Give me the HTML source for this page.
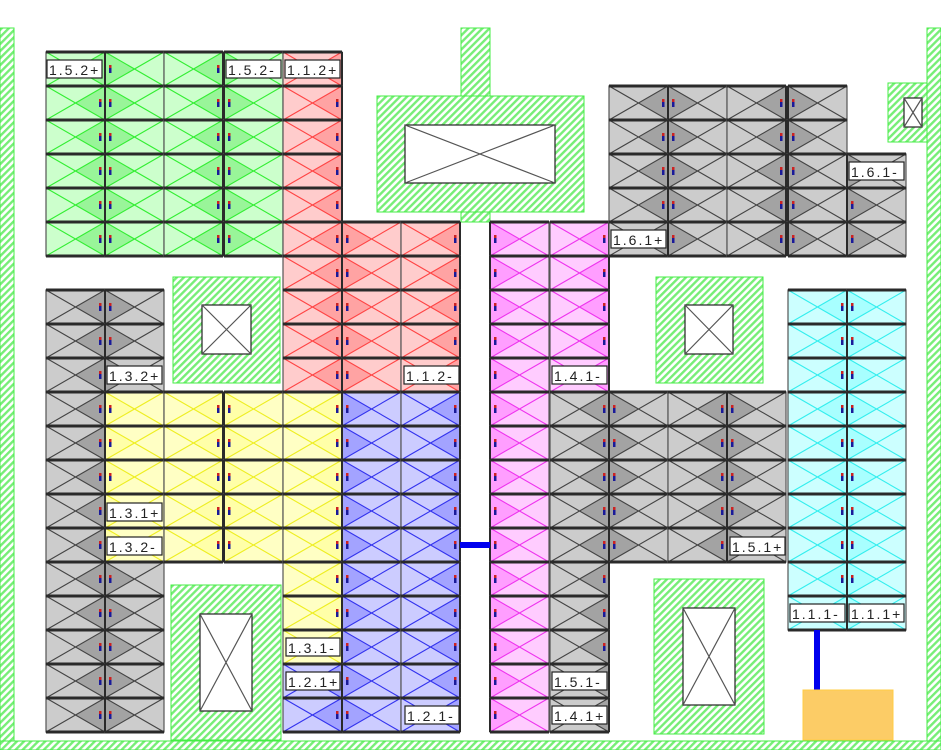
<!DOCTYPE html>
<html><head><meta charset="utf-8"><style>
html,body{margin:0;padding:0;background:#fff;width:941px;height:750px;overflow:hidden}
svg{display:block}
.lb rect{fill:#fff;stroke:#222;stroke-width:1.2}
.lb text{font-family:"Liberation Sans",sans-serif;font-size:14px;letter-spacing:2px;fill:#222}
</style></head><body>
<svg id="s" width="941" height="750" viewBox="0 0 941 750" xmlns="http://www.w3.org/2000/svg">
<defs>
<pattern id="h" patternUnits="userSpaceOnUse" width="5" height="5" patternTransform="rotate(45)">
<rect width="5" height="5" fill="#fff"/><rect width="2.4" height="5" fill="#77ee77"/>
</pattern>
</defs>
<g id="hatch" fill="url(#h)" stroke="#44ee44" stroke-width="1">
<rect x="0" y="28" width="14" height="722"/>
<rect x="927" y="28" width="14" height="722"/>
<rect x="0" y="741" width="941" height="9"/>
<rect x="461" y="28" width="29" height="194"/>
<rect x="377" y="96" width="207" height="116"/>
<rect x="888" y="83" width="39" height="59"/>
<rect x="173" y="277" width="107" height="106"/>
<rect x="656" y="277" width="107" height="106"/>
<rect x="171" y="585" width="110" height="155"/>
<rect x="654" y="579" width="110" height="155"/>
</g>
<g fill="#fff" stroke="#222" stroke-width="1.2">
<rect x="405" y="125" width="150" height="58"/><path d="M405 125L555 183M555 125L405 183" stroke="#555"/>
<rect x="904" y="98" width="18" height="29"/><path d="M904 98L922 127M922 98L904 127" stroke="#555"/>
<rect x="202" y="305" width="49" height="49"/><path d="M202 305L251 354M251 305L202 354" stroke="#555"/>
<rect x="685" y="305" width="48" height="49"/><path d="M685 305L733 354M733 305L685 354" stroke="#555"/>
<rect x="200" y="614" width="52" height="97"/><path d="M200 614L252 711M252 614L200 711" stroke="#555"/>
<rect x="683" y="608" width="52" height="97"/><path d="M683 608L735 705M735 608L683 705" stroke="#555"/>
</g>
<g id="cells"></g>
<rect x="460" y="542" width="30" height="6" fill="#0000ee"/>
<rect x="814" y="630" width="6" height="61" fill="#0000ee"/>
<rect x="803" y="690" width="90" height="50" fill="#fccc66" stroke="#ffcc44"/>
<g class="lb">
<rect x="47" y="60" width="55" height="18"/><text x="49" y="75">1.5.2+</text>
<rect x="226" y="60" width="55" height="18"/><text x="228" y="75">1.5.2-</text>
<rect x="285" y="60" width="55" height="18"/><text x="287" y="75">1.1.2+</text>
<rect x="849" y="162" width="55" height="18"/><text x="851" y="177">1.6.1-</text>
<rect x="611" y="230" width="55" height="18"/><text x="613" y="245">1.6.1+</text>
<rect x="107" y="366" width="55" height="18"/><text x="109" y="381">1.3.2+</text>
<rect x="404" y="366" width="55" height="18"/><text x="406" y="381">1.1.2-</text>
<rect x="552" y="366" width="55" height="18"/><text x="554" y="381">1.4.1-</text>
<rect x="107" y="503" width="55" height="18"/><text x="109" y="518">1.3.1+</text>
<rect x="107" y="537" width="55" height="18"/><text x="109" y="552">1.3.2-</text>
<rect x="730" y="537" width="55" height="18"/><text x="732" y="552">1.5.1+</text>
<rect x="790" y="604" width="55" height="18"/><text x="792" y="619">1.1.1-</text>
<rect x="849" y="604" width="55" height="18"/><text x="851" y="619">1.1.1+</text>
<rect x="286" y="638" width="54" height="18"/><text x="288" y="653">1.3.1-</text>
<rect x="286" y="672" width="54" height="18"/><text x="288" y="687">1.2.1+</text>
<rect x="552" y="672" width="55" height="18"/><text x="554" y="687">1.5.1-</text>
<rect x="405" y="706" width="54" height="18"/><text x="407" y="721">1.2.1-</text>
<rect x="552" y="706" width="55" height="18"/><text x="554" y="721">1.4.1+</text>
</g>
</svg>
<script>
var C={g:["#ccffcc","#99f599","#33ee33"],r:["#ffcccc","#ffa3a3","#ff4444"],k:["#cccccc","#a3a3a3","#444444"],
y:["#ffffc4","#ffffa8","#eeee22"],b:["#ccccff","#a3a3ff","#3333ee"],p:["#ffccff","#ff9eff","#ee33ee"],c:["#ccffff","#a8ffff","#33eeee"]};
var G=document.getElementById("cells"),out="";
function cell(x,y,w,col,side){var c=C[col],h=34,cx=x+w/2,cy=y+h/2,s="";
s+='<rect x="'+x+'" y="'+y+'" width="'+w+'" height="'+h+'" fill="'+c[0]+'"/>';
if(side=="R")s+='<polygon points="'+cx+','+cy+' '+(x+w)+','+y+' '+(x+w)+','+(y+h)+'" fill="'+c[1]+'"/>';
if(side=="L")s+='<polygon points="'+cx+','+cy+' '+x+','+y+' '+x+','+(y+h)+'" fill="'+c[1]+'"/>';
s+='<path d="M'+x+' '+y+'L'+(x+w)+' '+(y+h)+'M'+(x+w)+' '+y+'L'+x+' '+(y+h)+'" stroke="'+c[2]+'" stroke-width="1.1" fill="none"/>';
if(side){var mx=side=="R"?x+w-6:x+4;s+='<rect x="'+mx+'" y="'+(cy-4)+'" width="2.5" height="8" fill="#1a1a99"/><rect x="'+mx+'" y="'+(cy-4)+'" width="2.5" height="3" fill="#cc2222"/>';}
s+='<rect x="'+x+'" y="'+y+'" width="'+w+'" height="'+h+'" fill="none" stroke="#555" stroke-width="1.2"/>';
s+='<line x1="'+x+'" y1="'+y+'" x2="'+(x+w)+'" y2="'+y+'" stroke="#2a2a2a" stroke-width="3"/>';
s+='<line x1="'+x+'" y1="'+(y+h)+'" x2="'+(x+w)+'" y2="'+(y+h)+'" stroke="#2a2a2a" stroke-width="3"/>';
s+='<line x1="'+(side=="L"?x:x+w)+'" y1="'+y+'" x2="'+(side=="L"?x:x+w)+'" y2="'+(y+h)+'" stroke="#2a2a2a" stroke-width="2"/>';
out+=s;}
function blk(xs,r0,n,col,sides){for(var i=0;i<n;i++){var y=52+34*(r0+i);for(var j=0;j<xs.length;j++)cell(xs[j],y,59,col,sides[j]);}}
blk([46,105,164,224],0,6,"g",["R","L","R","L"]);
blk([283],0,5,"r",["R"]);
blk([283,342,401],5,5,"r",["R","L","R"]);
blk([46],7,13,"k",["R"]);
blk([105],7,3,"k",["L"]);
blk([105],15,5,"k",["L"]);
blk([105,164,224,283],10,5,"y",["L","R","L","R"]);
blk([283],15,3,"y",["R"]);
blk([342,401],10,10,"b",["L","R"]);
blk([283],18,2,"b",["R"]);
blk([490,550],5,5,"p",["L","R"]);
blk([490],10,10,"p",["L"]);
blk([550,609,668,727],10,5,"k",["R","L","R","L"]);
blk([550],15,5,"k",["R"]);
blk([609,668,727,788],1,5,"k",["R","L","R","L"]);
blk([847],3,3,"k",["L"]);
blk([788,847],7,10,"c",["R","L"]);
G.innerHTML=out;
</script>
</body></html>
